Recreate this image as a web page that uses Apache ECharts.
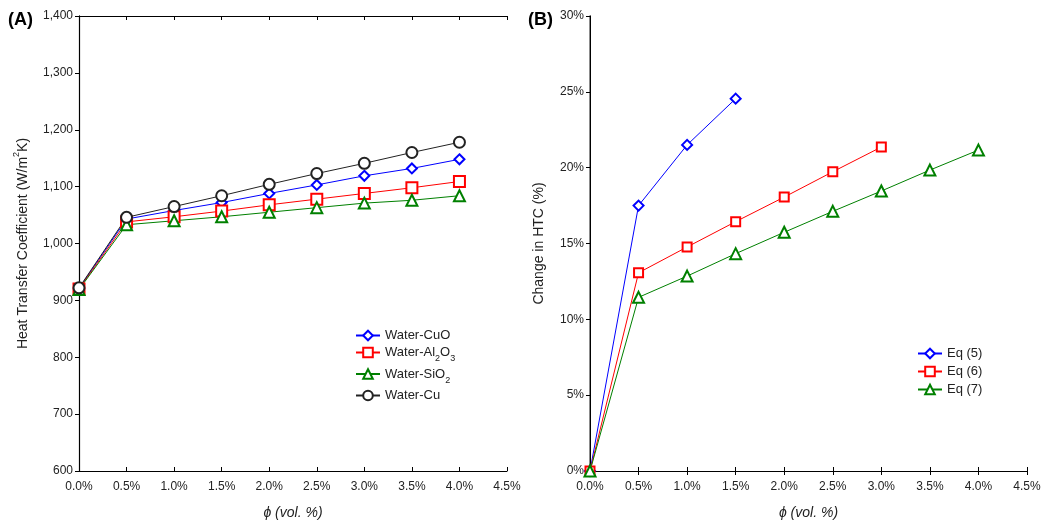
<!DOCTYPE html>
<html>
<head>
<meta charset="utf-8">
<script src="https://cdn.jsdelivr.net/npm/echarts@6/dist/echarts.min.js"></script>
<style>
html,body{margin:0;padding:0;background:#fff;}
#chart{width:1043px;height:520px;}
</style>
</head>
<body>
<div id="chart"></div>
<script>
// volume fractions (%)
var phi = [0, 0.5, 1.0, 1.5, 2.0, 2.5, 3.0, 3.5, 4.0];

// (A) heat transfer coefficient, W/m2K
var htcCuO   = [921, 1043, 1058, 1072, 1088, 1103, 1119, 1132, 1148];
var htcAl2O3 = [920, 1038, 1047, 1057, 1068, 1078, 1088, 1098, 1109];
var htcSiO2  = [919, 1033, 1040, 1047, 1055, 1063, 1071, 1076, 1084];
var htcCu    = [922, 1046, 1065, 1084, 1104, 1123, 1141, 1160, 1178];

// (B) change in HTC, %
var eq5 = [0, 17.5, 21.5, 24.55];
var eq6 = [0, 13.07, 14.77, 16.44, 18.06, 19.73, 21.36];
var eq7 = [0, 11.45, 12.85, 14.33, 15.74, 17.12, 18.46, 19.84, 21.16];

var legendA = ['Water-CuO', 'Water-Al2O3', 'Water-SiO2', 'Water-Cu'];
var legendB = ['Eq (5)', 'Eq (6)', 'Eq (7)'];

function pairs(ys) {
	return ys.map(function(y, i) { return [phi[i], y]; });
}

var font = 'Liberation Sans, Arial, sans-serif';
var txt = '#222';

function xBottom(gi) {
	return {
		type : 'value', gridIndex : gi, min : 0, max : 4.5, interval : 0.5,
		axisLine : { lineStyle : { color : '#000', width : 1 } },
		axisTick : { inside : true, length : 4, lineStyle : { color : '#000' } },
		axisLabel : { color : txt, fontSize : 12, fontFamily : font, margin : 10,
			formatter : function(v) { return v.toFixed(1) + '%'; } },
		splitLine : { show : false },
		name : 'ϕ (vol. %)', nameLocation : 'middle', nameGap : 35,
		nameTextStyle : { color : txt, fontSize : 14, fontStyle : 'italic', fontFamily : font }
	};
}
function xTop(gi) {
	return {
		type : 'value', gridIndex : gi, position : 'top', min : 0, max : 4.5, interval : 0.5,
		axisLine : { lineStyle : { color : '#000', width : 1 } },
		axisTick : { inside : true, length : 4, lineStyle : { color : '#000' } },
		axisLabel : { show : false }, splitLine : { show : false }
	};
}
function yRight(gi, min, max, step) {
	return {
		type : 'value', gridIndex : gi, position : 'right', min : min, max : max, interval : step,
		axisLine : { show : true, lineStyle : { color : '#000', width : 1 } },
		axisTick : { show : true, inside : true, length : 4, lineStyle : { color : '#000' } },
		axisLabel : { show : false }, splitLine : { show : false }
	};
}

var richSub = {
	a : { fontSize : 13, fontFamily : font, color : txt, lineHeight : 18, verticalAlign : 'middle' },
	s : { fontSize : 9, fontFamily : font, color : txt, lineHeight : 9, verticalAlign : 'bottom', padding : [0, 0, -2, 0] }
};

function line(name, data, color, symbol, size, xi, yi) {
	return {
		name : name, type : 'line', xAxisIndex : xi, yAxisIndex : yi,
		data : data, symbol : symbol, symbolSize : size, clip : false,
		showAllSymbol : true,
		lineStyle : { color : color, width : 1 },
		itemStyle : { color : color, borderColor : color, borderWidth : 1 },
		emphasis : { disabled : true }
	};
}

var myChart = echarts.init(document.getElementById('chart'));
var option = {
	backgroundColor : '#fff',
	animation : false,
	grid : [
		{ left : 79, right : 536, top : 16, bottom : 49, outerBoundsMode : 'none' },
		{ left : 590, right : 16, top : 16, bottom : 49, outerBoundsMode : 'none' }
	],
	xAxis : [ xBottom(0), xTop(0), xBottom(1), xTop(1) ],
	yAxis : [ {
		type : 'value', gridIndex : 0, min : 600, max : 1400, interval : 100,
		axisLine : { show : true, lineStyle : { color : '#000', width : 1.2 } },
		axisTick : { show : true, length : 4, lineStyle : { color : '#000' } },
		axisLabel : { color : txt, fontSize : 12, fontFamily : font, margin : 6,
			formatter : function(v) { return v >= 1000 ? Math.floor(v / 1000) + ',' + String(v % 1000).padStart(3, '0') : String(v); } },
		splitLine : { show : false },
		name : '{a|Heat Transfer Coefficient (W/m}{p|2}{a|K)}', nameLocation : 'middle', nameGap : 47,
		nameTextStyle : { color : txt, fontSize : 14, fontFamily : font,
			rich : {
				a : { fontSize : 14, fontFamily : font, color : txt, lineHeight : 18, verticalAlign : 'middle' },
				p : { fontSize : 9, fontFamily : font, color : txt, lineHeight : 9, verticalAlign : 'top', padding : [-2, 0, 0, 0] }
			} }
	}, yRight(0, 600, 1400, 100), {
		type : 'value', gridIndex : 1, min : 0, max : 30, interval : 5,
		axisLine : { show : true, lineStyle : { color : '#666', width : 1.5 } },
		axisTick : { show : true, length : 4, lineStyle : { color : '#000' } },
		axisLabel : { color : txt, fontSize : 12, fontFamily : font, margin : 6,
			formatter : function(v) { return v + '%'; } },
		splitLine : { show : false },
		name : 'Change in HTC (%)', nameLocation : 'middle', nameGap : 44,
		nameTextStyle : { color : txt, fontSize : 14, fontFamily : font }
	}, yRight(1, 0, 30, 5) ],
	legend : [ {
		data : legendA, orient : 'vertical', left : 350, top : 324,
		itemWidth : 24, itemHeight : 12, itemGap : 4,
		itemStyle : { borderWidth : 2 },
		textStyle : { fontSize : 13, fontFamily : font, color : txt, rich : richSub },
		formatter : function(n) {
			if (n == 'Water-Al2O3') return '{a|Water-Al}{s|2}{a|O}{s|3}';
			if (n == 'Water-SiO2') return '{a|Water-SiO}{s|2}';
			return '{a|' + n + '}';
		}
	}, {
		data : legendB, orient : 'vertical', left : 912, top : 342,
		itemWidth : 24, itemHeight : 12, itemGap : 5,
		itemStyle : { borderWidth : 2 },
		textStyle : { fontSize : 13, fontFamily : font, color : txt }
	} ],
	graphic : [
		{ type : 'text', left : 8, top : 11, style : { text : '(A)', font : 'bold 18px ' + font, fill : '#000' } },
		{ type : 'text', left : 528, top : 11, style : { text : '(B)', font : 'bold 18px ' + font, fill : '#000' } }
	],
	series : [
		line('Water-CuO', pairs(htcCuO), '#0000ff', 'emptyDiamond', 10, 0, 0),
		line('Water-Al2O3', pairs(htcAl2O3), '#ff0000', 'emptyRect', 11, 0, 0),
		line('Water-SiO2', pairs(htcSiO2), '#008000', 'emptyTriangle', 11, 0, 0),
		line('Water-Cu', pairs(htcCu), '#222222', 'emptyCircle', 11, 0, 0),
		line('Eq (5)', pairs(eq5), '#0000ff', 'emptyDiamond', 10, 2, 2),
		line('Eq (6)', pairs(eq6), '#ff0000', 'emptyRect', 9, 2, 2),
		line('Eq (7)', pairs(eq7), '#008000', 'emptyTriangle', 11, 2, 2)
	]
};
myChart.setOption(option);
</script>
</body>
</html>
